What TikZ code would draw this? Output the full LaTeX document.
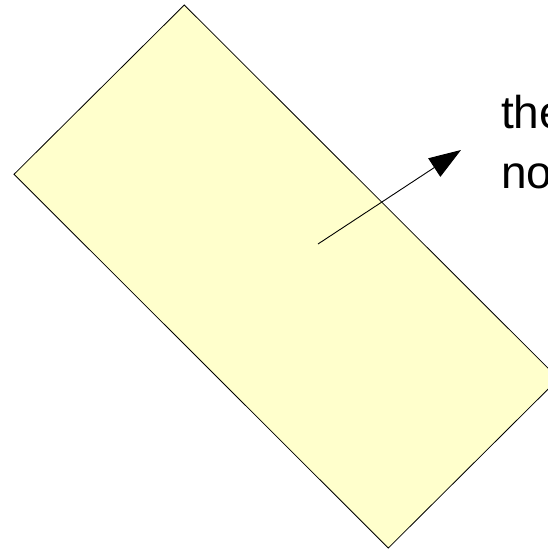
\documentclass[tikz,border=0pt]{standalone}
\usepackage{fontspec}
\setmainfont{Liberation Sans}
\usetikzlibrary{arrows.meta}
\definecolor{planefill}{HTML}{FFFFCC}
\begin{document}
\begin{tikzpicture}[x=1pt,y=-1pt]
	% Frame
	\useasboundingbox (0,0) rectangle (548,550);
	\clip (0,0) rectangle (548,550);
	
	% Draw Plane
	\coordinate (T) at (184.3,5);
	\coordinate (L) at (14,174.3);
	\coordinate (B) at (388.3,548);
	\coordinate (R) at (558.6,378.7);
	\draw[line width=0.8pt, fill=planefill] (T) -- (R) -- (B) -- (L) -- cycle;
	
	% Normal
	\coordinate (P) at (318,244);
	\coordinate (N) at (461,150);
	\draw[line width=0.9pt, -{Triangle[length=32pt, width=22pt]}] (P) -- (N);
	
	% Label
	\node[anchor=base west, inner sep=0pt, align=left, font=\fontsize{46}{59.5}\selectfont] (lbl) at (501,188.2) {the\\no};
\end{tikzpicture}
\end{document}
